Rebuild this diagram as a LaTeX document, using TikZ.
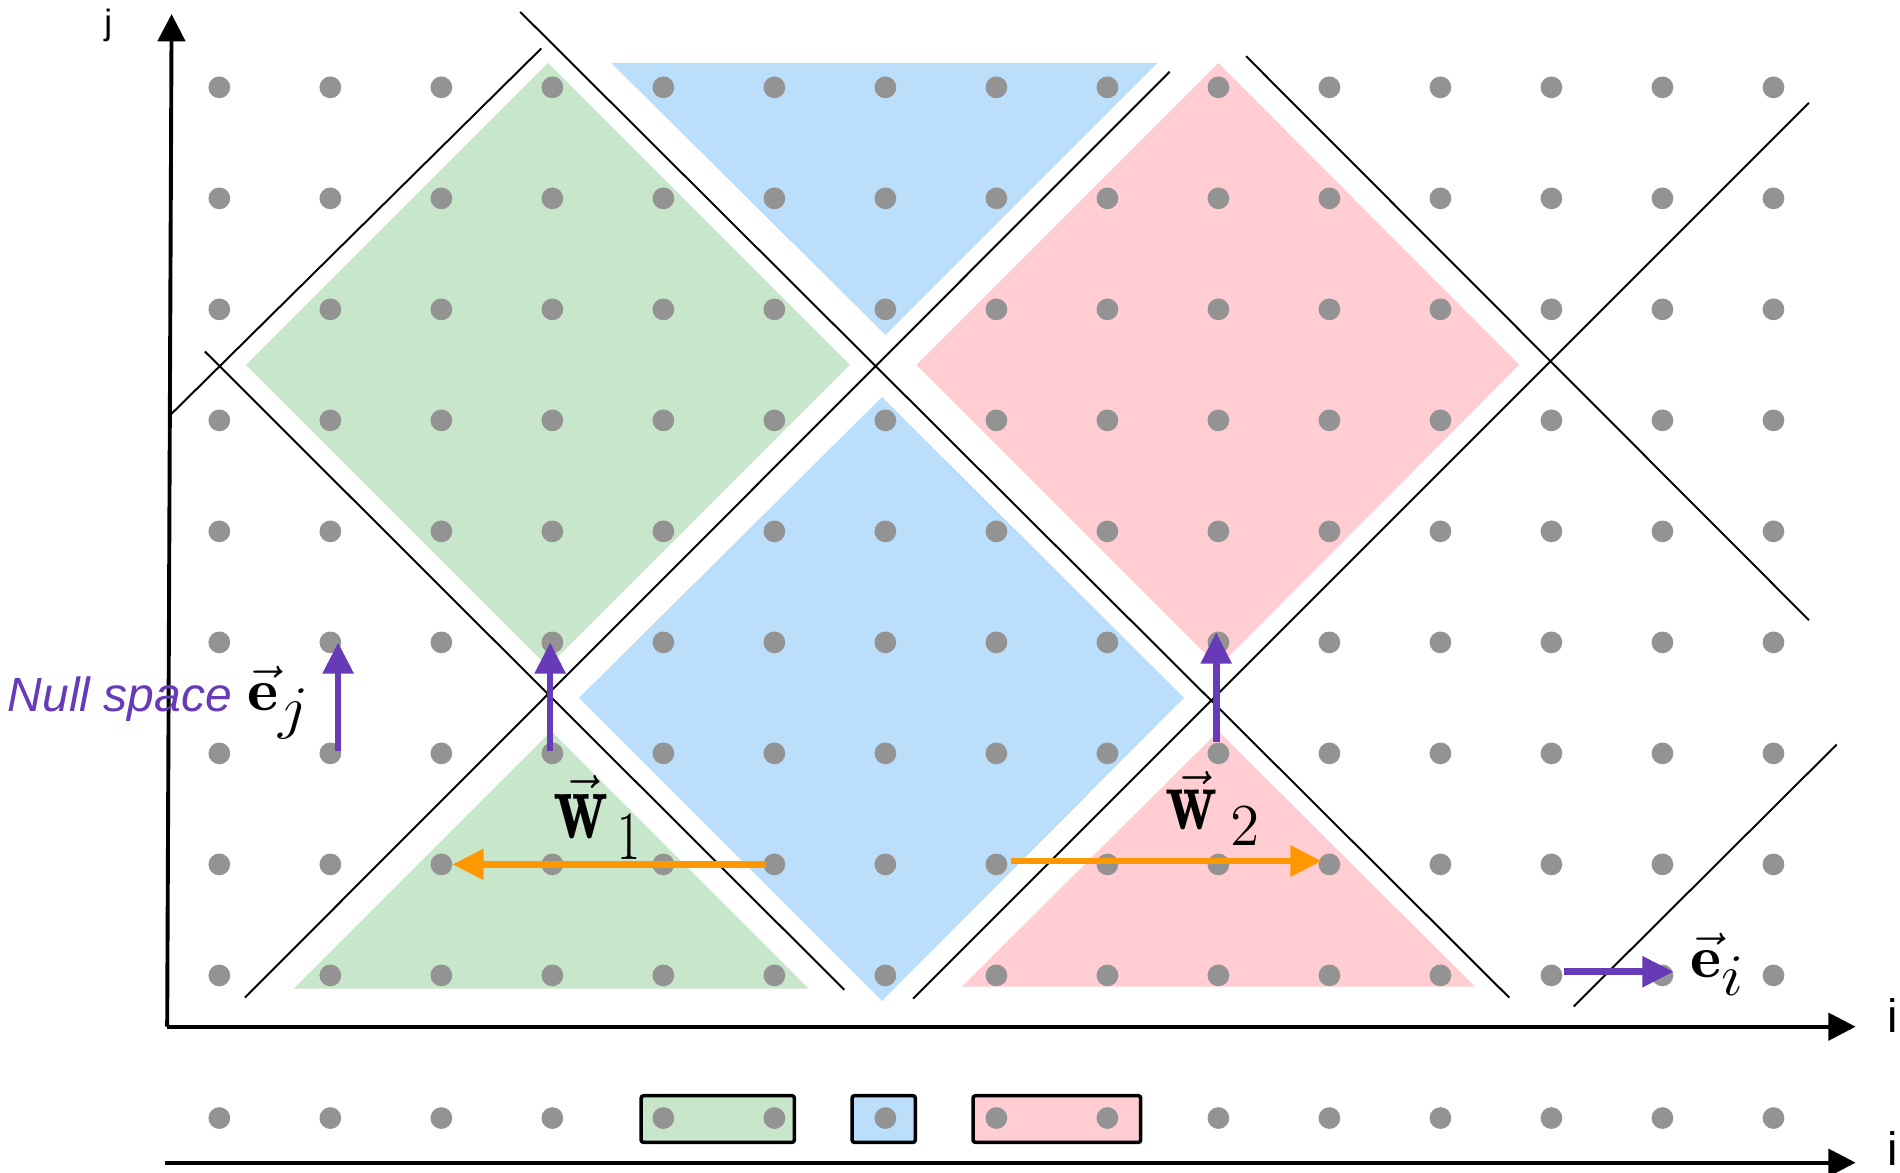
\documentclass[tikz,border=0pt]{standalone}
\usepackage{fontspec}
\usepackage{amsmath}
\usepackage{graphicx}
\usetikzlibrary{arrows.meta,positioning}
\newfontfamily\labelsans{Liberation Sans}
\definecolor{nsgreen}{HTML}{C8E6C9}
\definecolor{nsblue}{HTML}{BBDEFB}
\definecolor{nspink}{HTML}{FFCDD2}
\definecolor{nsdot}{HTML}{939393}
\definecolor{nspurple}{HTML}{673AB7}
\definecolor{nsorange}{HTML}{FF9800}
\newcommand{\bigsub}[1]{\scalebox{1.4}{$\scriptstyle #1$}}
\newcommand{\tallw}[2]{\scalebox{#1}[#2]{$\mathbf{w}$}}

\begin{document}
\begin{tikzpicture}[
    vecarrow/.style={line width=1.7pt,-{Triangle[length=8pt,width=7.6pt]}},
    axisarrow/.style={line width=1pt,-{Triangle[length=7pt,width=7pt]}},
    cutline/.style={line width=0.5pt,black},
    unitlabel/.style={inner sep=0pt,font=\fontsize{17}{20}\selectfont},
    tilelabel/.style={inner sep=0pt,font=\LARGE},
    axislabel/.style={inner sep=0pt,font=\labelsans\fontsize{12}{14}\selectfont}
  ]
    \useasboundingbox (-1.976,-1.771) rectangle (15.14,8.787);
    % tiles of the schedule
    \fill[nsgreen] (2.96,8.22) -- (5.68,5.5) -- (2.96,2.78) -- (0.24,5.5) -- cycle;
    \fill[nsgreen] (2.99,2.2) -- (5.31,-0.12) -- (0.67,-0.12) -- cycle;
    \fill[nsblue] (3.53,8.22) -- (8.45,8.22) -- (6,5.77) -- cycle;
    \fill[nsblue] (5.97,5.21) -- (8.69,2.5) -- (5.97,-0.23) -- (3.24,2.5) -- cycle;
    \fill[nspink] (9,8.22) -- (11.71,5.5) -- (9,2.78) -- (6.28,5.5) -- cycle;
    \fill[nspink] (9,2.2) -- (11.31,-0.1) -- (6.69,-0.1) -- cycle;
    % tile boundaries
    \foreach \a/\b in {{-0.44,5.05}/{2.90,8.35},{-0.13,5.62}/{5.63,-0.13},
      {2.71,8.68}/{11.62,-0.2},{0.23,-0.2}/{8.56,8.14},{6.25,-0.21}/{14.32,7.86},
      {9.25,8.28}/{14.32,3.2},{12.2,-0.28}/{14.57,2.08}}
      \draw[cutline] (\a) -- (\b);
    % 1D image of the tiles
    \draw[line width=0.9pt,rounded corners=0.6pt,fill=nsgreen] (3.8,-1.084) rectangle (5.18,-1.504);
    \draw[line width=0.9pt,rounded corners=0.6pt,fill=nsblue] (5.7,-1.084) rectangle (6.27,-1.504);
    \draw[line width=0.9pt,rounded corners=0.6pt,fill=nspink] (6.79,-1.084) rectangle (8.3,-1.504);
    % iteration points
    \foreach \i in {0,...,14} {
      \foreach \j in {0,...,8}
        \fill[nsdot] (\i,\j) circle (0.098);
      \fill[nsdot] (\i,-1.285) circle (0.098);
    }
    % axes
    \coordinate (origin) at (-0.47,-0.462);
    \coordinate (jtip) at (-0.43,8.66);
    \coordinate (itip) at (14.74,-0.462);
    \coordinate (bstart) at (-0.49,-1.687);
    \coordinate (btip) at (14.74,-1.687);
    \draw[axisarrow] (origin) -- (jtip);
    \draw[axisarrow] (origin) -- (itip);
    \draw[axisarrow] (bstart) -- (btip);
    \node[axislabel,anchor=base] (ilbl) at (15.07,-0.517) {i};
    \node[axislabel,anchor=base] (blbl) at (15.07,-1.71) {i};
    \node[inner sep=0pt,anchor=base,font=\labelsans\fontsize{9}{11}\selectfont] (jlbl) at (-1.0,8.475) {j};
    % unit vectors and tile vectors
    \coordinate (ej0) at (1.07,2.02);
    \coordinate (ej1) at (1.07,3.0);
    \coordinate (ua0) at (2.98,2.02);
    \coordinate (ua1) at (2.98,3.0);
    \coordinate (ub0) at (8.98,2.1);
    \coordinate (ub1) at (8.98,3.09);
    \coordinate (ei0) at (12.11,0.033);
    \coordinate (ei1) at (13.1,0.033);
    \coordinate (wa0) at (4.92,1.0);
    \coordinate (wa1) at (2.1,1.0);
    \coordinate (wb0) at (7.13,1.03);
    \coordinate (wb1) at (9.93,1.03);
    \draw[vecarrow,nsorange] (wa0) -- (wa1);
    \draw[vecarrow,nsorange] (wb0) -- (wb1);
    \draw[vecarrow,nspurple] (ej0) -- (ej1);
    \draw[vecarrow,nspurple] (ua0) -- (ua1);
    \draw[vecarrow,nspurple] (ub0) -- (ub1);
    \draw[vecarrow,nspurple] (ei0) -- (ei1);
    \node[unitlabel,anchor=base west] (ejlbl) at (0.25,2.39) {\scalebox{1}[0.9]{$\vec{\mathbf{e}}_{\bigsub{j}}$}};
    \node[inner sep=0pt,anchor=base east,text=nspurple,
      font=\labelsans\itshape\fontsize{12.3}{14}\selectfont] (nulltxt) at (0.12,2.38) {Null space};
    \node[tilelabel,anchor=base west] (walbl) at (3.0,1.237)
      {$\vec{\tallw{1.13}{1.47}}_{\hspace{2.5pt}\scalebox{1}[1.47]{$\scriptstyle 1$}}$};
    \node[tilelabel,anchor=base west] (wblbl) at (8.52,1.31)
      {$\vec{\tallw{1.07}{1.32}}_{\hspace{3.2pt}\raisebox{-1.5pt}{\scalebox{1.27}{$\scriptstyle 2$}}}$};
    \node[unitlabel,anchor=base west] (eilbl) at (13.25,-0.02) {\scalebox{1}[0.9]{$\vec{\mathbf{e}}_{\bigsub{i}}$}};
  \end{tikzpicture}
\end{document}
